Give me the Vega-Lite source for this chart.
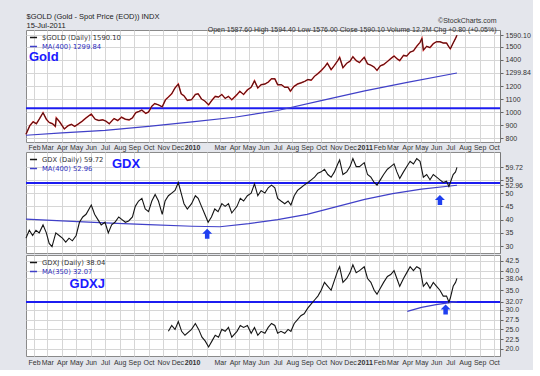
{
  "$schema": "https://vega.github.io/schema/vega-lite/v6.json",
  "background": "#e4e6ec",
  "padding": {"left": 22, "top": 11, "right": 2, "bottom": 4},
  "spacing": 0,
  "resolve": {
    "scale": {"x": "independent", "y": "independent", "color": "independent"},
    "legend": {"color": "independent"}
  },
  "datasets": {
    "gold": [
      {"d": "2009-01-15", "v": 830}, {"d": "2009-01-23", "v": 895}, {"d": "2009-01-30", "v": 925},
      {"d": "2009-02-06", "v": 910}, {"d": "2009-02-12", "v": 945}, {"d": "2009-02-20", "v": 995},
      {"d": "2009-02-27", "v": 945}, {"d": "2009-03-05", "v": 920}, {"d": "2009-03-12", "v": 910},
      {"d": "2009-03-18", "v": 890}, {"d": "2009-03-20", "v": 955}, {"d": "2009-03-27", "v": 925},
      {"d": "2009-04-06", "v": 870}, {"d": "2009-04-14", "v": 895}, {"d": "2009-04-21", "v": 905},
      {"d": "2009-04-28", "v": 890}, {"d": "2009-05-06", "v": 910}, {"d": "2009-05-14", "v": 930},
      {"d": "2009-05-22", "v": 955}, {"d": "2009-06-02", "v": 985}, {"d": "2009-06-10", "v": 945},
      {"d": "2009-06-18", "v": 935}, {"d": "2009-06-26", "v": 940}, {"d": "2009-07-03", "v": 930},
      {"d": "2009-07-10", "v": 910}, {"d": "2009-07-20", "v": 950}, {"d": "2009-07-28", "v": 935},
      {"d": "2009-08-05", "v": 960}, {"d": "2009-08-13", "v": 945}, {"d": "2009-08-21", "v": 940},
      {"d": "2009-08-28", "v": 955}, {"d": "2009-09-04", "v": 995}, {"d": "2009-09-11", "v": 1005},
      {"d": "2009-09-17", "v": 1015}, {"d": "2009-09-25", "v": 990}, {"d": "2009-10-01", "v": 1000},
      {"d": "2009-10-08", "v": 1045}, {"d": "2009-10-14", "v": 1065}, {"d": "2009-10-22", "v": 1055},
      {"d": "2009-10-30", "v": 1040}, {"d": "2009-11-06", "v": 1095}, {"d": "2009-11-12", "v": 1115},
      {"d": "2009-11-19", "v": 1140}, {"d": "2009-11-26", "v": 1185}, {"d": "2009-12-03", "v": 1215},
      {"d": "2009-12-09", "v": 1140}, {"d": "2009-12-15", "v": 1125}, {"d": "2009-12-22", "v": 1090},
      {"d": "2009-12-31", "v": 1095}, {"d": "2010-01-08", "v": 1135}, {"d": "2010-01-14", "v": 1140},
      {"d": "2010-01-21", "v": 1100}, {"d": "2010-01-28", "v": 1085}, {"d": "2010-02-05", "v": 1055},
      {"d": "2010-02-12", "v": 1090}, {"d": "2010-02-19", "v": 1120}, {"d": "2010-02-26", "v": 1115},
      {"d": "2010-03-05", "v": 1135}, {"d": "2010-03-12", "v": 1105}, {"d": "2010-03-19", "v": 1120},
      {"d": "2010-03-26", "v": 1095}, {"d": "2010-04-05", "v": 1130}, {"d": "2010-04-12", "v": 1160},
      {"d": "2010-04-20", "v": 1135}, {"d": "2010-04-28", "v": 1170}, {"d": "2010-05-06", "v": 1190},
      {"d": "2010-05-13", "v": 1240}, {"d": "2010-05-20", "v": 1185}, {"d": "2010-05-27", "v": 1210},
      {"d": "2010-06-04", "v": 1215}, {"d": "2010-06-11", "v": 1230}, {"d": "2010-06-18", "v": 1255},
      {"d": "2010-06-25", "v": 1255}, {"d": "2010-07-01", "v": 1210}, {"d": "2010-07-09", "v": 1210},
      {"d": "2010-07-16", "v": 1190}, {"d": "2010-07-23", "v": 1190}, {"d": "2010-07-28", "v": 1160},
      {"d": "2010-08-04", "v": 1195}, {"d": "2010-08-12", "v": 1215}, {"d": "2010-08-20", "v": 1225},
      {"d": "2010-08-27", "v": 1235}, {"d": "2010-09-03", "v": 1250}, {"d": "2010-09-10", "v": 1245},
      {"d": "2010-09-17", "v": 1275}, {"d": "2010-09-24", "v": 1295}, {"d": "2010-10-01", "v": 1318},
      {"d": "2010-10-08", "v": 1345}, {"d": "2010-10-14", "v": 1375}, {"d": "2010-10-22", "v": 1325},
      {"d": "2010-10-29", "v": 1358}, {"d": "2010-11-05", "v": 1395}, {"d": "2010-11-09", "v": 1420},
      {"d": "2010-11-16", "v": 1340}, {"d": "2010-11-24", "v": 1375}, {"d": "2010-12-01", "v": 1390},
      {"d": "2010-12-07", "v": 1425}, {"d": "2010-12-14", "v": 1395}, {"d": "2010-12-21", "v": 1380},
      {"d": "2010-12-31", "v": 1420}, {"d": "2011-01-07", "v": 1370}, {"d": "2011-01-14", "v": 1360},
      {"d": "2011-01-21", "v": 1345}, {"d": "2011-01-27", "v": 1320}, {"d": "2011-02-03", "v": 1355},
      {"d": "2011-02-10", "v": 1365}, {"d": "2011-02-18", "v": 1388}, {"d": "2011-02-25", "v": 1410},
      {"d": "2011-03-04", "v": 1430}, {"d": "2011-03-10", "v": 1410}, {"d": "2011-03-16", "v": 1395},
      {"d": "2011-03-24", "v": 1435}, {"d": "2011-03-31", "v": 1430}, {"d": "2011-04-07", "v": 1460},
      {"d": "2011-04-14", "v": 1470}, {"d": "2011-04-21", "v": 1505}, {"d": "2011-04-28", "v": 1535},
      {"d": "2011-05-02", "v": 1565}, {"d": "2011-05-05", "v": 1475}, {"d": "2011-05-12", "v": 1505},
      {"d": "2011-05-19", "v": 1495}, {"d": "2011-05-26", "v": 1525}, {"d": "2011-06-02", "v": 1540},
      {"d": "2011-06-09", "v": 1540}, {"d": "2011-06-16", "v": 1530}, {"d": "2011-06-23", "v": 1530},
      {"d": "2011-06-28", "v": 1500}, {"d": "2011-07-01", "v": 1485}, {"d": "2011-07-07", "v": 1530},
      {"d": "2011-07-12", "v": 1565}, {"d": "2011-07-15", "v": 1590.1}
    ],
    "goldma": [
      {"d": "2009-01-15", "v": 822}, {"d": "2009-04-01", "v": 840}, {"d": "2009-07-01", "v": 860},
      {"d": "2009-10-01", "v": 890}, {"d": "2010-01-01", "v": 925}, {"d": "2010-04-01", "v": 960},
      {"d": "2010-07-01", "v": 1012}, {"d": "2010-10-01", "v": 1088}, {"d": "2011-01-01", "v": 1162},
      {"d": "2011-04-01", "v": 1228}, {"d": "2011-07-15", "v": 1299.84}
    ],
    "gdx": [
      {"d": "2009-01-15", "v": 33}, {"d": "2009-01-22", "v": 36}, {"d": "2009-01-29", "v": 34},
      {"d": "2009-02-05", "v": 36}, {"d": "2009-02-12", "v": 35}, {"d": "2009-02-20", "v": 38},
      {"d": "2009-02-27", "v": 35}, {"d": "2009-03-05", "v": 31}, {"d": "2009-03-11", "v": 29.8},
      {"d": "2009-03-19", "v": 35}, {"d": "2009-03-26", "v": 34}, {"d": "2009-04-02", "v": 33},
      {"d": "2009-04-09", "v": 31.5}, {"d": "2009-04-16", "v": 33}, {"d": "2009-04-23", "v": 32},
      {"d": "2009-05-01", "v": 34}, {"d": "2009-05-08", "v": 39}, {"d": "2009-05-15", "v": 41},
      {"d": "2009-05-22", "v": 42}, {"d": "2009-06-02", "v": 45.5}, {"d": "2009-06-09", "v": 42},
      {"d": "2009-06-16", "v": 40}, {"d": "2009-06-23", "v": 38}, {"d": "2009-07-01", "v": 39},
      {"d": "2009-07-08", "v": 35}, {"d": "2009-07-15", "v": 38}, {"d": "2009-07-22", "v": 39},
      {"d": "2009-07-30", "v": 41}, {"d": "2009-08-06", "v": 40}, {"d": "2009-08-13", "v": 39},
      {"d": "2009-08-20", "v": 39.5}, {"d": "2009-08-28", "v": 41}, {"d": "2009-09-03", "v": 45},
      {"d": "2009-09-10", "v": 47}, {"d": "2009-09-17", "v": 48}, {"d": "2009-09-24", "v": 44},
      {"d": "2009-10-01", "v": 43}, {"d": "2009-10-08", "v": 47}, {"d": "2009-10-15", "v": 49.5},
      {"d": "2009-10-22", "v": 47}, {"d": "2009-10-30", "v": 42}, {"d": "2009-11-05", "v": 47},
      {"d": "2009-11-12", "v": 49}, {"d": "2009-11-19", "v": 50}, {"d": "2009-11-26", "v": 51},
      {"d": "2009-12-03", "v": 54}, {"d": "2009-12-09", "v": 50}, {"d": "2009-12-15", "v": 46},
      {"d": "2009-12-22", "v": 44}, {"d": "2009-12-31", "v": 46}, {"d": "2010-01-08", "v": 49},
      {"d": "2010-01-14", "v": 48}, {"d": "2010-01-21", "v": 45}, {"d": "2010-01-28", "v": 42},
      {"d": "2010-02-04", "v": 39}, {"d": "2010-02-11", "v": 41}, {"d": "2010-02-18", "v": 44},
      {"d": "2010-02-25", "v": 43}, {"d": "2010-03-05", "v": 46}, {"d": "2010-03-12", "v": 45},
      {"d": "2010-03-19", "v": 46}, {"d": "2010-03-26", "v": 42.5}, {"d": "2010-04-06", "v": 45},
      {"d": "2010-04-13", "v": 48}, {"d": "2010-04-20", "v": 47}, {"d": "2010-04-28", "v": 49},
      {"d": "2010-05-06", "v": 50}, {"d": "2010-05-13", "v": 53.5}, {"d": "2010-05-20", "v": 49},
      {"d": "2010-05-27", "v": 51}, {"d": "2010-06-04", "v": 50}, {"d": "2010-06-11", "v": 52},
      {"d": "2010-06-18", "v": 53}, {"d": "2010-06-25", "v": 52}, {"d": "2010-07-01", "v": 48},
      {"d": "2010-07-08", "v": 47}, {"d": "2010-07-16", "v": 46}, {"d": "2010-07-23", "v": 47},
      {"d": "2010-07-29", "v": 45.5}, {"d": "2010-08-05", "v": 49}, {"d": "2010-08-12", "v": 51},
      {"d": "2010-08-19", "v": 52}, {"d": "2010-08-26", "v": 53}, {"d": "2010-09-03", "v": 54},
      {"d": "2010-09-10", "v": 55}, {"d": "2010-09-17", "v": 56}, {"d": "2010-09-24", "v": 57.5},
      {"d": "2010-10-01", "v": 58}, {"d": "2010-10-08", "v": 59}, {"d": "2010-10-15", "v": 57},
      {"d": "2010-10-22", "v": 56}, {"d": "2010-10-29", "v": 58}, {"d": "2010-11-05", "v": 61},
      {"d": "2010-11-09", "v": 62.5}, {"d": "2010-11-16", "v": 57}, {"d": "2010-11-24", "v": 58},
      {"d": "2010-12-01", "v": 60}, {"d": "2010-12-07", "v": 63}, {"d": "2010-12-14", "v": 60},
      {"d": "2010-12-21", "v": 60}, {"d": "2010-12-31", "v": 61.5}, {"d": "2011-01-07", "v": 57},
      {"d": "2011-01-14", "v": 56}, {"d": "2011-01-21", "v": 54}, {"d": "2011-01-27", "v": 53},
      {"d": "2011-02-03", "v": 55}, {"d": "2011-02-10", "v": 57}, {"d": "2011-02-18", "v": 59},
      {"d": "2011-02-25", "v": 60}, {"d": "2011-03-04", "v": 61}, {"d": "2011-03-10", "v": 58},
      {"d": "2011-03-16", "v": 55.5}, {"d": "2011-03-24", "v": 58}, {"d": "2011-03-31", "v": 60},
      {"d": "2011-04-07", "v": 62}, {"d": "2011-04-14", "v": 61}, {"d": "2011-04-21", "v": 63},
      {"d": "2011-04-28", "v": 62}, {"d": "2011-05-05", "v": 56}, {"d": "2011-05-12", "v": 57},
      {"d": "2011-05-19", "v": 55}, {"d": "2011-05-26", "v": 57}, {"d": "2011-06-02", "v": 56},
      {"d": "2011-06-09", "v": 55}, {"d": "2011-06-16", "v": 54}, {"d": "2011-06-23", "v": 54.5},
      {"d": "2011-06-28", "v": 52.5}, {"d": "2011-07-01", "v": 54}, {"d": "2011-07-07", "v": 57},
      {"d": "2011-07-12", "v": 58}, {"d": "2011-07-15", "v": 59.72}
    ],
    "gdxma": [
      {"d": "2009-01-15", "v": 40.2}, {"d": "2009-04-01", "v": 39.5}, {"d": "2009-07-01", "v": 38.8},
      {"d": "2009-10-01", "v": 38.1}, {"d": "2010-01-01", "v": 37.5}, {"d": "2010-03-01", "v": 37.3},
      {"d": "2010-05-01", "v": 38.5}, {"d": "2010-07-01", "v": 40}, {"d": "2010-09-01", "v": 42},
      {"d": "2010-11-01", "v": 44.8}, {"d": "2011-01-01", "v": 47.6}, {"d": "2011-03-01", "v": 49.8},
      {"d": "2011-05-01", "v": 51.5}, {"d": "2011-07-15", "v": 52.96}
    ],
    "gdxj": [
      {"d": "2009-11-12", "v": 24.5}, {"d": "2009-11-19", "v": 26}, {"d": "2009-11-26", "v": 25},
      {"d": "2009-12-03", "v": 27}, {"d": "2009-12-10", "v": 24.5}, {"d": "2009-12-17", "v": 23.5},
      {"d": "2009-12-31", "v": 25}, {"d": "2010-01-08", "v": 26.5}, {"d": "2010-01-15", "v": 25},
      {"d": "2010-01-22", "v": 23}, {"d": "2010-01-29", "v": 22}, {"d": "2010-02-05", "v": 20.5},
      {"d": "2010-02-12", "v": 22}, {"d": "2010-02-19", "v": 23.5}, {"d": "2010-02-26", "v": 23},
      {"d": "2010-03-05", "v": 25}, {"d": "2010-03-12", "v": 24.5}, {"d": "2010-03-19", "v": 25.5},
      {"d": "2010-03-26", "v": 23}, {"d": "2010-04-06", "v": 24.5}, {"d": "2010-04-13", "v": 26},
      {"d": "2010-04-20", "v": 25.5}, {"d": "2010-04-28", "v": 26}, {"d": "2010-05-06", "v": 24},
      {"d": "2010-05-13", "v": 25.5}, {"d": "2010-05-20", "v": 23.5}, {"d": "2010-05-27", "v": 24.5},
      {"d": "2010-06-04", "v": 24}, {"d": "2010-06-11", "v": 25.5}, {"d": "2010-06-18", "v": 26.5},
      {"d": "2010-06-25", "v": 26}, {"d": "2010-07-01", "v": 24}, {"d": "2010-07-08", "v": 24.5},
      {"d": "2010-07-16", "v": 24}, {"d": "2010-07-23", "v": 25}, {"d": "2010-07-29", "v": 24.5},
      {"d": "2010-08-05", "v": 26.5}, {"d": "2010-08-12", "v": 27.5}, {"d": "2010-08-19", "v": 28.5},
      {"d": "2010-08-26", "v": 29}, {"d": "2010-09-03", "v": 30.5}, {"d": "2010-09-10", "v": 31.5},
      {"d": "2010-09-17", "v": 32.5}, {"d": "2010-09-24", "v": 33.5}, {"d": "2010-10-01", "v": 35},
      {"d": "2010-10-08", "v": 37}, {"d": "2010-10-15", "v": 36}, {"d": "2010-10-22", "v": 35},
      {"d": "2010-10-29", "v": 37.5}, {"d": "2010-11-05", "v": 40}, {"d": "2010-11-09", "v": 41},
      {"d": "2010-11-16", "v": 37}, {"d": "2010-11-24", "v": 38}, {"d": "2010-12-01", "v": 39.5},
      {"d": "2010-12-07", "v": 41.5}, {"d": "2010-12-14", "v": 39.5}, {"d": "2010-12-21", "v": 40},
      {"d": "2010-12-31", "v": 41}, {"d": "2011-01-07", "v": 38}, {"d": "2011-01-14", "v": 37},
      {"d": "2011-01-21", "v": 35}, {"d": "2011-01-27", "v": 34}, {"d": "2011-02-03", "v": 35.5},
      {"d": "2011-02-10", "v": 37}, {"d": "2011-02-18", "v": 38.5}, {"d": "2011-02-25", "v": 39},
      {"d": "2011-03-04", "v": 40}, {"d": "2011-03-10", "v": 38}, {"d": "2011-03-16", "v": 36},
      {"d": "2011-03-24", "v": 38}, {"d": "2011-03-31", "v": 39.5}, {"d": "2011-04-07", "v": 41},
      {"d": "2011-04-14", "v": 40}, {"d": "2011-04-21", "v": 41}, {"d": "2011-04-28", "v": 40.5},
      {"d": "2011-05-05", "v": 36}, {"d": "2011-05-12", "v": 37}, {"d": "2011-05-19", "v": 35.5},
      {"d": "2011-05-26", "v": 37}, {"d": "2011-06-02", "v": 36}, {"d": "2011-06-09", "v": 35},
      {"d": "2011-06-16", "v": 33.5}, {"d": "2011-06-23", "v": 33.5}, {"d": "2011-06-28", "v": 32},
      {"d": "2011-07-01", "v": 33}, {"d": "2011-07-07", "v": 36}, {"d": "2011-07-12", "v": 37},
      {"d": "2011-07-15", "v": 38.04}
    ],
    "gdxjma": [
      {"d": "2011-04-01", "v": 29.6}, {"d": "2011-05-01", "v": 30.6}, {"d": "2011-06-01", "v": 31.3},
      {"d": "2011-07-15", "v": 32.07}
    ]
  },
  "vconcat": [
    {
      "width": 474,
      "height": 112,
      "layer": [
        {
          "data": {"values": [{"level": 1030}]},
          "mark": {"type": "rule", "color": "#1c1cf0", "strokeWidth": 2},
          "encoding": {"y": {"field": "level", "type": "quantitative"}}
        },
        {
          "data": {"name": "goldma"},
          "mark": {"type": "line", "strokeWidth": 1.2},
          "encoding": {
            "x": {"field": "d", "type": "temporal",
              "axis": {"orient": "top", "labels": false, "ticks": false, "domain": false, "grid": false,
                "title": ["$GOLD (Gold - Spot Price (EOD)) INDX", "15-Jul-2011"],
                "titleAnchor": "start", "titleFont": "Liberation Sans", "titleFontSize": 7.5, "titleFontWeight": "normal",
                "titleColor": "#222", "titleLineHeight": 9, "titlePadding": 1}},
            "y": {"field": "v", "type": "quantitative"},
            "color": {"datum": "MA(400) 1299.84"}
          }
        },
        {
          "data": {"name": "gold"},
          "mark": {"type": "line", "strokeWidth": 1.5, "color": "#e02222"},
          "encoding": {
            "x": {"field": "d", "type": "temporal", "axis": null},
            "y": {"field": "v", "type": "quantitative"}
          }
        },
        {
          "data": {"name": "gold"},
          "mark": {"type": "line", "strokeWidth": 0.8},
          "encoding": {
            "x": {"field": "d", "type": "temporal",
              "scale": {"domain": [{"year": 2009, "month": 1, "date": 15, "utc": true}, {"year": 2011, "month": 10, "date": 14, "utc": true}]},
              "axis": {"orient": "bottom", "title": null, "tickCount": {"interval": "month", "step": 1},
                "labelExpr": "month(datum.value) == 0 ? timeFormat(datum.value, '%Y') : ((year(datum.value) == 2010 && month(datum.value) == 1) ? '' : timeFormat(datum.value, '%b'))",
                "labelFontWeight": {"condition": {"test": "month(datum.value) == 0", "value": "bold"}, "value": "normal"},
                "labelOverlap": false, "labelPadding": 1, "ticks": false, "domain": false, "grid": true}},
            "y": {"field": "v", "type": "quantitative",
              "scale": {"domain": [770, 1630], "nice": false, "zero": false},
              "axis": {"orient": "right",
                "title": ["©StockCharts.com", "Open 1587.60  High 1594.40  Low 1576.00  Close 1590.10  Volume 12.2M  Chg +0.80 (+0.05%)"],
                "titleAngle": 0, "titleAlign": "right", "titleBaseline": "bottom", "titleX": -4, "titleY": -7,
                "titleFont": "Liberation Sans", "titleFontSize": 7, "titleFontWeight": "normal", "titleColor": "#333", "titleLineHeight": 9,
                "values": [800, 900, 1000, 1100, 1200, 1400, 1500, 1299.84, 1590.1], "tickCount": 40,
                "labelExpr": "datum.value % 100 == 0 ? format(datum.value, 'd') : format(datum.value, '.2f')",
                "labelOverlap": false}},
            "color": {"datum": "$GOLD (Daily) 1590.10",
              "scale": {"domain": ["$GOLD (Daily) 1590.10", "MA(400) 1299.84"], "range": ["#151515", "#4040c8"]},
              "legend": {"orient": "top-left", "offset": 3, "title": "Gold", "titleOrient": "bottom",
                "titleColor": "#1a1aff", "titleFont": "Liberation Sans", "titleFontSize": 13, "titleFontWeight": "bold", "titlePadding": 1,
                "encode": {"labels": {"update": {"fill": {"signal": "indexof(datum.label, 'MA') == 0 ? '#3030c0' : '#333333'"}}}}}}
          }
        }
      ]
    },
    {
      "width": 474,
      "height": 101,
      "layer": [
        {
          "data": {"values": [{"level": 53.8}]},
          "mark": {"type": "rule", "color": "#1c1cf0", "strokeWidth": 2},
          "encoding": {"y": {"field": "level", "type": "quantitative"}}
        },
        {
          "data": {"name": "gdxma"},
          "mark": {"type": "line", "strokeWidth": 1.2},
          "encoding": {
            "x": {"field": "d", "type": "temporal"},
            "y": {"field": "v", "type": "quantitative"},
            "color": {"datum": "MA(400) 52.96"}
          }
        },
        {
          "data": {"name": "gdx"},
          "mark": {"type": "line", "strokeWidth": 1.1},
          "encoding": {
            "x": {"field": "d", "type": "temporal",
              "scale": {"domain": [{"year": 2009, "month": 1, "date": 15, "utc": true}, {"year": 2011, "month": 10, "date": 14, "utc": true}]},
              "axis": {"orient": "bottom", "title": null, "tickCount": {"interval": "month", "step": 1},
                "labels": false, "ticks": false, "domain": false, "grid": true}},
            "y": {"field": "v", "type": "quantitative",
              "scale": {"domain": [27.4, 65.5], "nice": false, "zero": false},
              "axis": {"orient": "right", "title": null,
                "values": [30, 35, 40, 45, 50, 55, 59.72, 52.96], "tickCount": 40,
                "labelExpr": "datum.value % 5 == 0 ? format(datum.value, 'd') : format(datum.value, '.2f')",
                "labelOverlap": false}},
            "color": {"datum": "GDX (Daily) 59.72",
              "scale": {"domain": ["GDX (Daily) 59.72", "MA(400) 52.96"], "range": ["#151515", "#4040c8"]},
              "legend": {"orient": "top-left", "offset": 3, "title": "GDX", "titleOrient": "right",
                "titleColor": "#1a1aff", "titleFont": "Liberation Sans", "titleFontSize": 13, "titleFontWeight": "bold", "titlePadding": 9,
                "encode": {"labels": {"update": {"fill": {"signal": "indexof(datum.label, 'MA') == 0 ? '#3030c0' : '#333333'"}}}}}}
          }
        },
        {
          "data": {"values": [{"d": "2010-02-02", "v": 34.7}, {"d": "2011-06-09", "v": 47.4}]},
          "mark": {"type": "point", "shape": "M-0.45,1L0.45,1L0.45,0L1,0L0,-1L-1,0L-0.45,0Z", "filled": true, "color": "#1f3ff0", "opacity": 1, "size": 100},
          "encoding": {
            "x": {"field": "d", "type": "temporal"},
            "y": {"field": "v", "type": "quantitative"}
          }
        }
      ]
    },
    {
      "width": 474,
      "height": 101,
      "layer": [
        {
          "data": {"values": [{"level": 32}]},
          "mark": {"type": "rule", "color": "#1c1cf0", "strokeWidth": 2},
          "encoding": {"y": {"field": "level", "type": "quantitative"}}
        },
        {
          "data": {"name": "gdxjma"},
          "mark": {"type": "line", "strokeWidth": 1.2},
          "encoding": {
            "x": {"field": "d", "type": "temporal"},
            "y": {"field": "v", "type": "quantitative"},
            "color": {"datum": "MA(350) 32.07"}
          }
        },
        {
          "data": {"name": "gdxj"},
          "mark": {"type": "line", "strokeWidth": 1.1},
          "encoding": {
            "x": {"field": "d", "type": "temporal",
              "scale": {"domain": [{"year": 2009, "month": 1, "date": 15, "utc": true}, {"year": 2011, "month": 10, "date": 14, "utc": true}]},
              "axis": {"orient": "bottom", "title": null, "tickCount": {"interval": "month", "step": 1},
                "labelExpr": "month(datum.value) == 0 ? timeFormat(datum.value, '%Y') : ((year(datum.value) == 2010 && month(datum.value) == 1) ? '' : timeFormat(datum.value, '%b'))",
                "labelFontWeight": {"condition": {"test": "month(datum.value) == 0", "value": "bold"}, "value": "normal"},
                "labelOverlap": false, "labelPadding": 2, "ticks": false, "domain": false, "grid": true}},
            "y": {"field": "v", "type": "quantitative",
              "scale": {"domain": [18.2, 44], "nice": false, "zero": false},
              "axis": {"orient": "right", "title": null,
                "values": [20, 22.5, 25, 27.5, 30, 35, 40, 42.5, 38.04, 32.07], "tickCount": 40,
                "labelExpr": "(datum.value * 10) % 25 == 0 ? format(datum.value, '.1f') : format(datum.value, '.2f')",
                "labelOverlap": false}},
            "color": {"datum": "GDXJ (Daily) 38.04",
              "scale": {"domain": ["GDXJ (Daily) 38.04", "MA(350) 32.07"], "range": ["#151515", "#4040c8"]},
              "legend": {"orient": "top-left", "offset": 3, "title": "GDXJ", "titleOrient": "bottom", "titleAnchor": "end",
                "titleColor": "#1a1aff", "titleFont": "Liberation Sans", "titleFontSize": 13, "titleFontWeight": "bold", "titlePadding": 3,
                "encode": {"labels": {"update": {"fill": {"signal": "indexof(datum.label, 'MA') == 0 ? '#3030c0' : '#333333'"}}}}}}
          }
        },
        {
          "data": {"values": [{"d": "2011-06-21", "v": 30.1}]},
          "mark": {"type": "point", "shape": "M-0.45,1L0.45,1L0.45,0L1,0L0,-1L-1,0L-0.45,0Z", "filled": true, "color": "#1f3ff0", "opacity": 1, "size": 100},
          "encoding": {
            "x": {"field": "d", "type": "temporal"},
            "y": {"field": "v", "type": "quantitative"}
          }
        }
      ]
    }
  ],
  "config": {
    "font": "Liberation Sans",
    "view": {"fill": "white", "stroke": "#8a8a8a", "strokeWidth": 1},
    "axis": {"labelFont": "Liberation Sans", "labelFontSize": 7, "labelColor": "#333", "gridColor": "#d6d6d6", "gridWidth": 1},
    "axisY": {"tickSize": 3, "tickColor": "#666", "labelPadding": 2, "domain": true, "domainColor": "#777"},
    "legend": {"symbolType": "stroke", "symbolSize": 50, "symbolStrokeWidth": 1.5, "rowPadding": 0, "padding": 0,
      "labelFont": "DejaVu Sans", "labelFontSize": 6.8, "labelColor": "#333", "labelLimit": 200, "columnPadding": 4}
  }
}
